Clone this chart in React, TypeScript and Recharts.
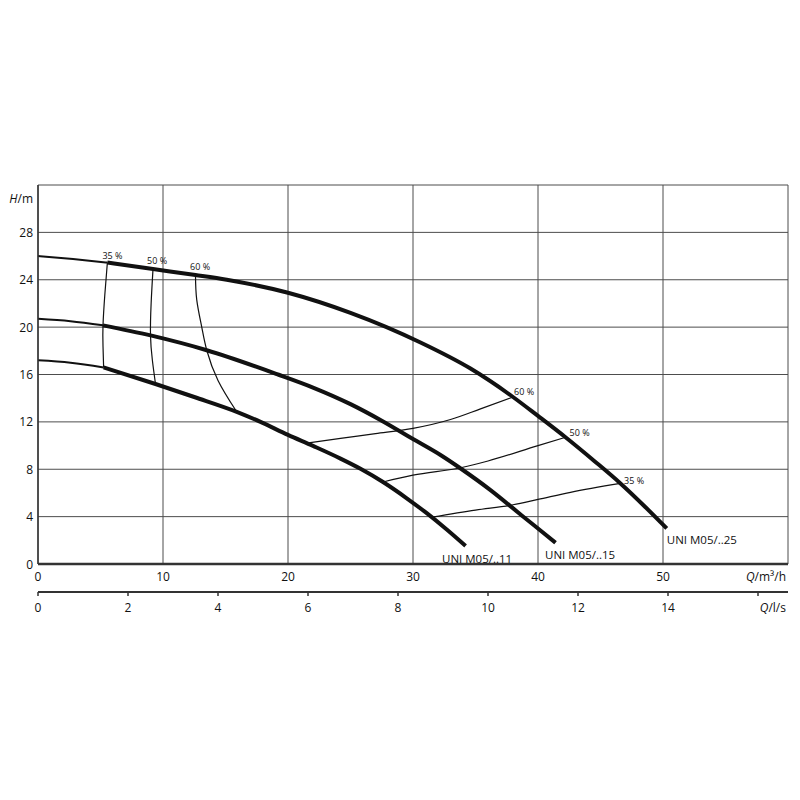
import React from "react";
import { CartesianGrid, ComposedChart, Line, ReferenceDot, XAxis, YAxis } from "recharts";

const FONT = "'Open Sans', 'DejaVu Sans', sans-serif";
const INK = "#111";
const GRID = "#4d4d4d";

// axes
const flowTicks = [0, 10, 20, 30, 40, 50, 60];
const headTicks = [0, 4, 8, 12, 16, 20, 24, 28, 32];
const litreTicks = [0, 2, 4, 6, 8, 10, 12, 14, 16];
const litreRange = [
  { ls: 0, h: 0 },
  { ls: 60 / 3.6, h: 0 },
];

const pumpNames = ["UNI M05/..11", "UNI M05/..15", "UNI M05/..25"];
const effNames = ["35 %", "50 %", "60 %"];

// pump curves, Q in m³/h, H in m (thin part up to 35 %, thick after)
const m11Start = [
  { q: 0, h: 17.2 },
  { q: 2.6, h: 17.0 },
  { q: 5.25, h: 16.6 },
];
const m11 = [
  { q: 5.25, h: 16.6 },
  { q: 9.4, h: 15.2 },
  { q: 12.5, h: 14.1 },
  { q: 15.9, h: 12.85 },
  { q: 17.8, h: 12.0 },
  { q: 20, h: 10.9 },
  { q: 22, h: 9.97 },
  { q: 24.2, h: 8.9 },
  { q: 25.8, h: 8.04 },
  { q: 27.6, h: 6.92 },
  { q: 29.5, h: 5.55 },
  { q: 31.1, h: 4.29 },
  { q: 32.7, h: 2.91 },
  { q: 34.2, h: 1.53 },
];

const m15Start = [
  { q: 0, h: 20.7 },
  { q: 2.6, h: 20.5 },
  { q: 5.2, h: 20.15 },
];
const m15 = [
  { q: 5.2, h: 20.15 },
  { q: 9.0, h: 19.3 },
  { q: 13.5, h: 18.05 },
  { q: 19.2, h: 16.0 },
  { q: 22, h: 14.9 },
  { q: 25, h: 13.5 },
  { q: 27.5, h: 12.1 },
  { q: 30, h: 10.55 },
  { q: 32.2, h: 9.2 },
  { q: 33.9, h: 8.0 },
  { q: 36.2, h: 6.24 },
  { q: 38.7, h: 4.1 },
  { q: 40, h: 3.0 },
  { q: 41.4, h: 1.8 },
];

const m25Start = [
  { q: 0, h: 26.0 },
  { q: 2.8, h: 25.75 },
  { q: 5.55, h: 25.45 },
];
const m25 = [
  { q: 5.55, h: 25.45 },
  { q: 9.2, h: 24.9 },
  { q: 12.6, h: 24.4 },
  { q: 15.1, h: 24.0 },
  { q: 20, h: 22.9 },
  { q: 25, h: 21.2 },
  { q: 30.6, h: 18.7 },
  { q: 34.6, h: 16.5 },
  { q: 38, h: 14.1 },
  { q: 40, h: 12.5 },
  { q: 42.2, h: 10.7 },
  { q: 44.5, h: 8.7 },
  { q: 46.6, h: 6.8 },
  { q: 48.5, h: 4.9 },
  { q: 50.3, h: 3.0 },
];

// efficiency lines, low flow side
const eff35Left = [
  { q: 5.55, h: 25.45 },
  { q: 5.35, h: 22.8 },
  { q: 5.2, h: 20.15 },
  { q: 5.2, h: 18.4 },
  { q: 5.25, h: 16.6 },
];
const eff50Left = [
  { q: 9.2, h: 24.9 },
  { q: 9.05, h: 22.0 },
  { q: 9.0, h: 19.3 },
  { q: 9.15, h: 17.2 },
  { q: 9.4, h: 15.2 },
];
const eff60Left = [
  { q: 12.6, h: 24.4 },
  { q: 12.7, h: 22.3 },
  { q: 13.1, h: 20.0 },
  { q: 13.5, h: 18.05 },
  { q: 14.4, h: 15.5 },
  { q: 15.9, h: 12.85 },
];

// efficiency lines, high flow side
const eff60Right = [
  { q: 21.5, h: 10.2 },
  { q: 24.2, h: 10.6 },
  { q: 27, h: 11.0 },
  { q: 30, h: 11.45 },
  { q: 33, h: 12.2 },
  { q: 35.4, h: 13.1 },
  { q: 38, h: 14.1 },
];
const eff50Right = [
  { q: 27.6, h: 6.92 },
  { q: 30, h: 7.5 },
  { q: 33.9, h: 8.15 },
  { q: 36, h: 8.7 },
  { q: 40, h: 10.0 },
  { q: 42.2, h: 10.7 },
];
const eff35Right = [
  { q: 31.5, h: 3.95 },
  { q: 35, h: 4.55 },
  { q: 38, h: 5.0 },
  { q: 40, h: 5.45 },
  { q: 42.6, h: 6.05 },
  { q: 46.6, h: 6.8 },
];

const first = (a: { q: number; h: number }[]) => a[0];
const last = (a: { q: number; h: number }[]) => a[a.length - 1];

function tag(text: string, dx: number, dy: number, size: number) {
  return (props: any) => {
    const vb = props.viewBox || {};
    const cx = (vb.x ?? 0) + (vb.width ?? 0) / 2;
    const cy = (vb.y ?? 0) + (vb.height ?? 0) / 2;
    return (
      <text x={cx + dx} y={cy + dy} fontSize={size} fontFamily={FONT} fill={INK}>
        {text}
      </text>
    );
  };
}

function HeadTick({ x, y, payload }: any) {
  if (payload.value === 32) {
    return (
      <text x={x} y={y + 18} textAnchor="end" fontSize={12} fontFamily={FONT} fill={INK}>
        <tspan fontStyle="italic">H</tspan>/m
      </text>
    );
  }
  return (
    <text x={x} y={y + 4.5} textAnchor="end" fontSize={12} fontFamily={FONT} fill={INK}>
      {payload.value}
    </text>
  );
}

function FlowTick({ x, y, payload }: any) {
  if (payload.value === 60) {
    return (
      <text x={x - 2} y={y + 16.5} textAnchor="end" fontSize={12} fontFamily={FONT} fill={INK}>
        <tspan fontStyle="italic">Q</tspan>/m³/h
      </text>
    );
  }
  return (
    <text x={x} y={y + 16.5} textAnchor="middle" fontSize={12} fontFamily={FONT} fill={INK}>
      {payload.value}
    </text>
  );
}

function LitreTick({ x, y, payload }: any) {
  if (payload.value === 16) {
    return (
      <text x={x + 28} y={y + 16} textAnchor="end" fontSize={12} fontFamily={FONT} fill={INK}>
        <tspan fontStyle="italic">Q</tspan>/l/s
      </text>
    );
  }
  return (
    <text x={x} y={y + 16} textAnchor="middle" fontSize={12} fontFamily={FONT} fill={INK}>
      {payload.value}
    </text>
  );
}

const thin = { stroke: INK, strokeWidth: 1.2, dot: false, activeDot: false, isAnimationActive: false } as const;
const start = { stroke: INK, strokeWidth: 2, dot: false, activeDot: false, isAnimationActive: false } as const;
const thick = { stroke: INK, strokeWidth: 4, dot: false, activeDot: false, isAnimationActive: false } as const;

export default function App() {
  return (
    <div style={{ position: "absolute", left: 0, top: 0, width: 800, height: 800, background: "#fff" }}>
      <ComposedChart width={800} height={800} margin={{ top: 185, right: 12, left: 0, bottom: 178 }}>
        <CartesianGrid stroke={GRID} strokeWidth={1} />
        <XAxis
          dataKey="q"
          type="number"
          domain={[0, 60]}
          ticks={flowTicks}
          interval={0}
          height={28}
          tickSize={0}
          tickMargin={0}
          axisLine={{ stroke: "#333", strokeWidth: 2.5 }}
          tick={<FlowTick />}
        />
        <XAxis
          xAxisId="ls"
          dataKey="ls"
          type="number"
          domain={[0, 60 / 3.6]}
          allowDataOverflow
          ticks={litreTicks}
          interval={0}
          height={30}
          tickSize={4}
          tickMargin={0}
          axisLine={{ stroke: "#333", strokeWidth: 2 }}
          tickLine={{ stroke: "#333", strokeWidth: 1.5 }}
          tick={<LitreTick />}
        />
        <YAxis
          type="number"
          domain={[0, 32]}
          ticks={headTicks}
          interval={0}
          width={38}
          tickSize={0}
          tickMargin={5}
          axisLine={{ stroke: "#333", strokeWidth: 1.5 }}
          tick={<HeadTick />}
        />

        <Line xAxisId="ls" data={litreRange} dataKey="h" stroke="none" dot={false} activeDot={false} isAnimationActive={false} />

        <Line data={eff35Left} dataKey="h" type="natural" {...thin} />
        <Line data={eff50Left} dataKey="h" type="natural" {...thin} />
        <Line data={eff60Left} dataKey="h" type="natural" {...thin} />
        <Line data={eff60Right} dataKey="h" type="monotone" {...thin} />
        <Line data={eff50Right} dataKey="h" type="monotone" {...thin} />
        <Line data={eff35Right} dataKey="h" type="monotone" {...thin} />

        <Line data={m11Start} dataKey="h" type="monotone" {...start} />
        <Line data={m15Start} dataKey="h" type="monotone" {...start} />
        <Line data={m25Start} dataKey="h" type="monotone" {...start} />
        <Line data={m11} dataKey="h" type="monotone" {...thick} />
        <Line data={m15} dataKey="h" type="monotone" {...thick} />
        <Line data={m25} dataKey="h" type="monotone" {...thick} />

        <ReferenceDot x={first(eff35Left).q} y={first(eff35Left).h} r={1} fill="none" stroke="none" ifOverflow="visible" label={tag(effNames[0], -5, -3.5, 9)} />
        <ReferenceDot x={first(eff50Left).q} y={first(eff50Left).h} r={1} fill="none" stroke="none" ifOverflow="visible" label={tag(effNames[1], -6, -5, 9)} />
        <ReferenceDot x={first(eff60Left).q} y={first(eff60Left).h} r={1} fill="none" stroke="none" ifOverflow="visible" label={tag(effNames[2], -5.5, -5, 9)} />
        <ReferenceDot x={last(eff60Right).q} y={last(eff60Right).h} r={1} fill="none" stroke="none" ifOverflow="visible" label={tag(effNames[2], 1, -2, 9)} />
        <ReferenceDot x={last(eff50Right).q} y={last(eff50Right).h} r={1} fill="none" stroke="none" ifOverflow="visible" label={tag(effNames[1], 4, -1.5, 9)} />
        <ReferenceDot x={last(eff35Right).q} y={last(eff35Right).h} r={1} fill="none" stroke="none" ifOverflow="visible" label={tag(effNames[0], 3.5, 0.5, 9)} />

        <ReferenceDot x={last(m11).q} y={last(m11).h} r={1} fill="none" stroke="none" ifOverflow="visible" label={tag(pumpNames[0], -23.5, 17, 11.5)} />
        <ReferenceDot x={last(m15).q} y={last(m15).h} r={1} fill="none" stroke="none" ifOverflow="visible" label={tag(pumpNames[1], -10.5, 16.6, 11.5)} />
        <ReferenceDot x={last(m25).q} y={last(m25).h} r={1} fill="none" stroke="none" ifOverflow="visible" label={tag(pumpNames[2], 0, 16, 11.5)} />
      </ComposedChart>
    </div>
  );
}
